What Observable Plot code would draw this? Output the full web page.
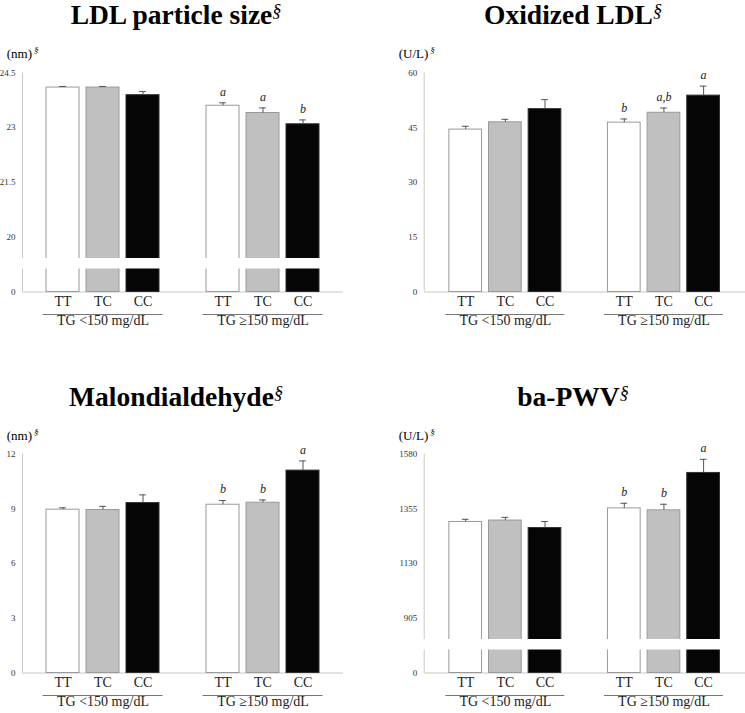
<!DOCTYPE html>
<html><head><meta charset="utf-8">
<script src="https://cdn.jsdelivr.net/npm/d3@7"></script>
<script src="https://cdn.jsdelivr.net/npm/@observablehq/plot@0.6"></script>
<style>
body{margin:0;background:#fff;overflow:hidden}
#root{position:relative;width:745px;height:713px;font-family:"Liberation Serif","Times New Roman",serif;color:#000}
.panel{position:absolute;width:373px;height:336px}
.title{position:absolute;width:400px;text-align:center;font-weight:bold;font-size:27.5px;line-height:30px;white-space:nowrap}
.title sup{font-weight:normal;font-style:italic;font-size:18px;vertical-align:baseline;position:relative;top:-7px}
.unit{position:absolute;font-size:13px;line-height:15px;white-space:nowrap}
.unit sup{font-style:italic;font-size:9px;vertical-align:baseline;position:relative;top:-5px;margin-left:2px}
.panel svg{position:absolute;left:0;top:40px;overflow:visible}
</style></head>
<body><div id="root"></div>
<script>
// ---- data ----
const genotypes = ["TT", "TC", "CC"];
const tgGroups = ["TG <150 mg/dL", "TG \u2265150 mg/dL"];
const titles = ["LDL particle size", "Oxidized LDL", "Malondialdehyde", "ba-PWV"];
const units = ["(nm)", "(U/L)", "(nm)", "(U/L)"];

const ldlSize = [24.1, 24.1, 23.89, 23.6, 23.4, 23.09];
const ldlSizeErr = [0.03, 0.03, 0.1, 0.08, 0.14, 0.12];
const ldlSizeLetters = ["", "", "", "a", "a", "b"];
const ldlSizeTicks = [0, 20, 21.5, 23, 24.5];

const oxLdl = [44.5, 46.5, 50.1, 46.4, 49.1, 53.8];
const oxLdlErr = [0.9, 0.8, 2.6, 1.0, 1.3, 2.6];
const oxLdlLetters = ["", "", "", "b", "a,b", "a"];
const oxLdlTicks = [0, 15, 30, 45, 60];

const mda = [8.95, 8.93, 9.31, 9.22, 9.33, 11.09];
const mdaErr = [0.1, 0.2, 0.45, 0.23, 0.15, 0.53];
const mdaLetters = ["", "", "", "b", "b", "a"];
const mdaTicks = [0, 3, 6, 9, 12];

const pwv = [1300, 1306, 1275, 1356, 1348, 1502];
const pwvErr = [11, 13, 27, 21, 25, 56];
const pwvLetters = ["", "", "", "b", "b", "a"];
const pwvTicks = [0, 905, 1130, 1355, 1580];

// axis breaks: [lower segment top, upper segment start]
const ldlSizeBreak = [19.0, 19.4];
const pwvBreak = [780, 816];

// ---- layout ----
const fills = ["#ffffff", "#c0c0c0", "#050505"];
const strokes = ["#9a9a9a", "#9a9a9a", "#303030"];
const sideLayout = {
  left: {width: 372, ml: 22, fr: 343, c0: 62.5, step: 40, unitX: 6.7, titleC: 176},
  right: {width: 373, ml: 51.7, fr: 373, c0: 93.2, step: 39.65, unitX: 26.7, titleC: 201}
};
const panels = [
  {values: ldlSize, errs: ldlSizeErr, letters: ldlSizeLetters, ticks: ldlSizeTicks, brk: ldlSizeBreak, side: "left", px: 0, py: 0, titleTop: 0, unitTop: 45.5},
  {values: oxLdl, errs: oxLdlErr, letters: oxLdlLetters, ticks: oxLdlTicks, brk: null, side: "right", px: 372, py: 0, titleTop: 0, unitTop: 45.5},
  {values: mda, errs: mdaErr, letters: mdaLetters, ticks: mdaTicks, brk: null, side: "left", px: 0, py: 381, titleTop: 1, unitTop: 46.5},
  {values: pwv, errs: pwvErr, letters: pwvLetters, ticks: pwvTicks, brk: pwvBreak, side: "right", px: 372, py: 381, titleTop: 1, unitTop: 46.5}
];

const H = 296, Y0 = 251.5, YTOP = 32.5;
// pixel heights above baseline for broken axes: lower segment end, upper segment start
const SEG_LO = 23, SEG_HI = 33.5, SPAN = Y0 - YTOP;
const root = document.getElementById("root");

panels.forEach((p, k) => {
  const L = sideLayout[p.side];
  const div = document.createElement("div");
  div.className = "panel";
  div.style.left = p.px + "px";
  div.style.top = p.py + "px";
  root.appendChild(div);

  const t = document.createElement("div");
  t.className = "title";
  t.style.left = (L.titleC - 200) + "px";
  t.style.top = p.titleTop + "px";
  t.innerHTML = titles[k] + "<sup>\u00a7</sup>";
  div.appendChild(t);

  const u = document.createElement("div");
  u.className = "unit";
  u.style.left = L.unitX + "px";
  u.style.top = p.unitTop + "px";
  u.innerHTML = units[k] + "<sup>\u00a7</sup>";
  div.appendChild(u);

  const rows = p.values.map((v, i) => {
    const gi = Math.floor(i / 3), ci = i % 3;
    return {pos: gi * 4 + ci, ci, gi, value: v, err: p.errs[i], letter: p.letters[i]};
  });
  const topVal = p.ticks[p.ticks.length - 1];
  const xDom = [(L.ml - L.c0) / L.step, (L.fr - L.c0) / L.step];

  let yScale;
  if (p.brk) {
    const [b0, b1] = p.brk;
    // broken axis: map data values onto a continuous virtual axis
    const tf = v => v <= b0 ? v / b0 * SEG_LO
      : v <= b1 ? SEG_LO + (v - b0) / (b1 - b0) * (SEG_HI - SEG_LO)
      : SEG_HI + (v - b1) / (topVal - b1) * (SPAN - SEG_HI);
    yScale = {transform: tf, domain: [0, SPAN], range: [Y0, YTOP]};
  } else {
    yScale = {domain: [0, topVal], range: [Y0, YTOP]};
  }

  const marks = [
    Plot.ruleY([0], {stroke: "#c8c8c8"}),
    Plot.ruleX([xDom[0]], {y1: 0, y2: topVal, stroke: "#c8c8c8"}),
    Plot.rect(rows, {x1: d => d.pos - 0.4125, x2: d => d.pos + 0.4125, y1: 0, y2: "value",
      fill: d => fills[d.ci], stroke: d => strokes[d.ci], strokeWidth: 1}),
    Plot.ruleX(rows, {x: "pos", y1: "value", y2: d => d.value + d.err, stroke: "#555"}),
    Plot.ruleY(rows, {y: d => d.value + d.err, x1: d => d.pos - 0.085, x2: d => d.pos + 0.085, stroke: "#555"}),
    // y tick labels (text mark so the y scale transform applies)
    Plot.text(p.ticks, {y: d => d, text: d => String(d), frameAnchor: "left", textAnchor: "end", dx: -7, fontSize: 9, fill: "#333"}),
    Plot.text(rows.filter(d => d.letter), {x: "pos", y: d => d.value + d.err, text: "letter", dy: -11,
      fontStyle: "italic", fontSize: 12, fill: "#222"}),
    Plot.text(rows, {x: "pos", text: d => genotypes[d.ci], frameAnchor: "bottom", dy: 13.5, fontSize: 14, fill: "#222"}),
    Plot.ruleY(tgGroups.map((g, gi) => ({gi})), {y: 0, x1: d => d.gi * 4 - 0.5, x2: d => d.gi * 4 + 2.5, dy: 22.5, stroke: "#777"}),
    Plot.text(tgGroups.map((g, gi) => ({g, gi})), {x: d => d.gi * 4 + 1, text: "g", frameAnchor: "bottom", dy: 33, fontSize: 14, fill: "#222"})
  ];
  if (p.brk) {
    marks.push(Plot.rect([0], {x1: xDom[0] - 0.3, x2: xDom[1] + 0.3, y1: p.brk[0], y2: p.brk[1], fill: "white"}));
  }

  const svg = Plot.plot({
    width: L.width,
    height: H,
    marginLeft: L.ml,
    marginRight: L.width - L.fr,
    marginTop: YTOP,
    marginBottom: H - Y0,
    style: {fontFamily: "'Liberation Serif','Times New Roman',serif", background: "transparent", overflow: "visible"},
    x: {domain: xDom, range: [L.ml, L.fr], axis: null},
    y: {...yScale, axis: null, label: null},
    color: {type: "identity"},
    marks
  });
  div.appendChild(svg);
});
</script>
</body></html>
